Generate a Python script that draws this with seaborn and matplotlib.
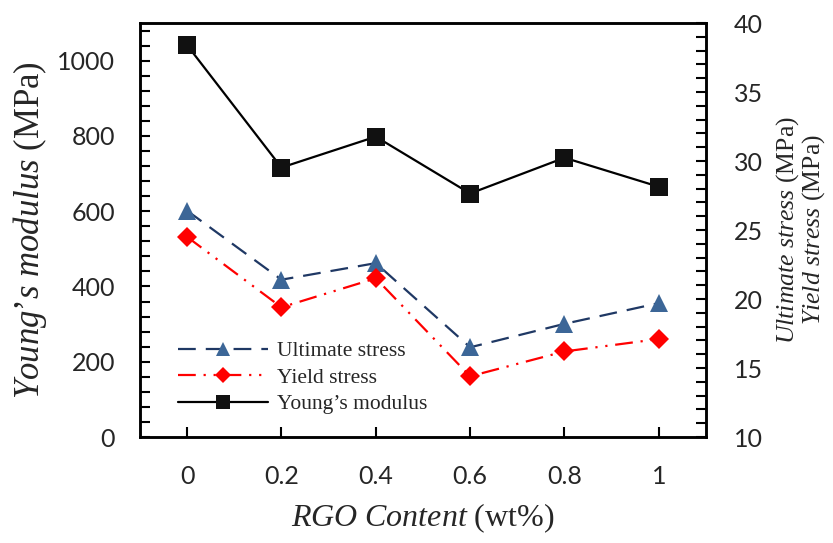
import matplotlib
matplotlib.use('Agg')
import matplotlib.pyplot as plt
import seaborn as sns
import pandas as pd
from matplotlib.ticker import MultipleLocator

# data
rgo_content = [0, 0.2, 0.4, 0.6, 0.8, 1.0]
rgo_labels = ["0", "0.2", "0.4", "0.6", "0.8", "1"]
youngs_modulus = [1041, 716, 798, 647, 742, 665]
ultimate_stress = [26.4, 21.4, 22.6, 16.5, 18.2, 19.7]
yield_stress = [24.5, 19.4, 21.5, 14.4, 16.2, 17.1]

sns.set_style("ticks")
plt.rcParams['font.family'] = ['Liberation Serif', 'DejaVu Serif']
plt.rcParams['mathtext.fontset'] = 'custom'
plt.rcParams['mathtext.it'] = 'Liberation Serif:italic'
plt.rcParams['mathtext.rm'] = 'Liberation Serif'
plt.rcParams['xtick.direction'] = 'in'
plt.rcParams['ytick.direction'] = 'in'

df = pd.DataFrame({"rgo": rgo_content, "E": youngs_modulus,
                   "uts": ultimate_stress, "ys": yield_stress})

fig = plt.figure(figsize=(8.33, 5.43), dpi=100)
ax = fig.add_axes([0.168, 0.1952, 0.6795, 0.7624])
ax2 = ax.twinx()

lw = 1.6
sns.lineplot(data=df, x="rgo", y="E", ax=ax, color="black", lw=lw,
             marker="s", markersize=12.5, markerfacecolor="#111111",
             markeredgecolor="#111111", markeredgewidth=0,
             label="Young\u2019s modulus", legend=False)
sns.lineplot(data=df, x="rgo", y="uts", ax=ax2, color="#1F3864", lw=lw,
             linestyle=(0, (8, 4.5)), marker="^", markersize=12.5,
             markerfacecolor="#3C6697", markeredgecolor="#3C6697",
             markeredgewidth=0, label="Ultimate stress", legend=False)
sns.lineplot(data=df, x="rgo", y="ys", ax=ax2, color="#FF0000", lw=lw,
             linestyle=(0, (8, 3.5, 1, 3.5, 1, 3.5)), marker="D",
             markersize=10.5, markerfacecolor="#FF0000",
             markeredgecolor="#FF0000", markeredgewidth=0,
             label="Yield stress", legend=False)

ax.set_xlim(-0.1, 1.1)
ax.set_xticks(rgo_content)
ax.set_xticklabels(rgo_labels)
ax.set_ylim(0, 1100)
ax.yaxis.set_major_locator(MultipleLocator(200))
ax.yaxis.set_minor_locator(MultipleLocator(40))
ax2.set_ylim(10, 40)
ax2.yaxis.set_major_locator(MultipleLocator(5))
ax2.yaxis.set_minor_locator(MultipleLocator(1))

ax.tick_params(axis="x", which="major", direction="in", length=7, width=1.5,
               color="black", pad=20, labelsize=18, labelfontfamily="Lato",
               bottom=True, top=False)
ax.tick_params(axis="y", which="both", direction="in", length=7, width=1.5,
               color="black", pad=18, labelsize=18, labelfontfamily="Lato",
               left=True, right=False)
ax2.tick_params(axis="y", which="both", direction="in", length=7, width=1.5,
                color="black", pad=20, labelsize=18, labelfontfamily="Lato",
                right=True, left=False)

for a in (ax, ax2):
    for sp in a.spines.values():
        sp.set_visible(True)
        sp.set_color("black")
        sp.set_linewidth(1.8)

ax.set_xlabel("$\\it{RGO\\ Content}$ (wt%)", fontsize=23, labelpad=10)
ax.set_ylabel("$\\it{Young\u2019s\\ modulus}$ (MPa)", fontsize=25, labelpad=6)
ax2.set_ylabel("$\\it{Ultimate\\ stress}$ (MPa)\n$\\it{Yield\\ stress}$ (MPa)",
               fontsize=18.5, labelpad=8, rotation=90, linespacing=0.95)

h1, l1 = ax2.get_legend_handles_labels()
h0, l0 = ax.get_legend_handles_labels()
leg = ax2.legend(h1 + h0, l1 + l0, loc="lower left",
                 bbox_to_anchor=(0.067, 0.055), frameon=False, fontsize=15.5,
                 handlelength=4.2, handletextpad=0.4, borderpad=0,
                 borderaxespad=0, labelspacing=0.3, markerscale=0.75)

fig.savefig("out.png", dpi=100)
